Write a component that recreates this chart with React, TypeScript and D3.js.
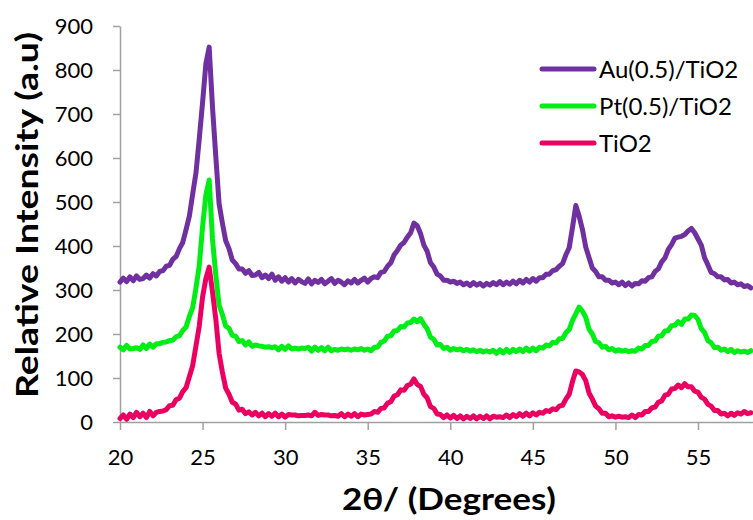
import * as d3 from "d3"
import { useEffect, useRef } from "react"

// XRD patterns, one value every 0.2 degrees from 20.0 to 58.2
const startAngle = 20
const angleStep = 0.2

const auTiO2 = [
  318, 327, 319, 330, 321, 332, 324, 326, 334, 327, 337,
  332, 342, 344, 354, 356, 370, 376, 394, 408, 437,
  468, 518, 566, 644, 726, 814, 852, 716, 604, 496, 452, 412, 394, 368, 360, 348, 348, 338, 344, 333,
  334, 340, 328, 334, 326, 336, 322, 330, 320, 328,
  318, 326, 316, 324, 319, 315, 325, 314, 322, 317,
  324, 314, 320, 326, 315, 322, 318, 312, 321, 316,
  324, 316, 322, 327, 318, 326, 330, 328, 340, 342,
  354, 362, 380, 390, 402, 408, 420, 430, 452, 446,
  428, 402, 388, 362, 352, 336, 332, 322, 322, 318,
  320, 315, 318, 312, 316, 310, 317, 311, 315, 309,
  315, 311, 317, 312, 319, 312, 318, 313, 320, 314,
  322, 316, 324, 318, 326, 320, 328, 328, 336, 336,
  344, 346, 354, 360, 380, 396, 442, 492, 468, 438,
  398, 374, 350, 342, 330, 330, 322, 322, 316, 318,
  312, 318, 310, 316, 309, 315, 314, 321, 320, 328,
  330, 342, 348, 364, 373, 392, 403, 418, 420, 422,
  426, 434, 440, 430, 416, 402, 373, 357, 340, 337,
  330, 330, 323, 324, 316, 318, 312, 314, 308, 310,
  305,
]

const ptTiO2 = [
  170, 164, 174, 166, 167, 169, 165, 175, 167, 177, 170,
  178, 178, 181, 182, 185, 186, 194, 196, 208, 216,
  240, 260, 304, 356, 444, 516, 550, 416, 334, 266, 244, 218, 213, 197, 195, 183, 185, 175, 182, 172,
  175, 173, 172, 170, 171, 169, 171, 164, 172, 165,
  173, 166, 168, 166, 168, 167, 170, 161, 170, 163,
  169, 162, 170, 162, 165, 163, 166, 164, 166, 163,
  166, 164, 167, 163, 166, 162, 170, 170, 181, 184,
  195, 196, 207, 208, 217, 216, 225, 226, 234, 228,
  235, 222, 212, 193, 188, 175, 176, 167, 170, 163,
  167, 164, 166, 162, 165, 161, 164, 160, 163, 159,
  162, 159, 163, 156, 164, 157, 165, 158, 165, 160,
  166, 160, 168, 161, 168, 162, 170, 168, 175, 173,
  181, 180, 189, 190, 203, 210, 231, 246, 261, 252,
  238, 211, 200, 183, 180, 170, 172, 164, 167, 161,
  164, 161, 163, 160, 162, 161, 168, 166, 174, 174,
  183, 184, 195, 196, 207, 208, 219, 220, 228, 222,
  234, 234, 243, 242, 233, 212, 203, 185, 180, 169,
  170, 163, 166, 160, 165, 158, 162, 159, 161, 158,
  162,
]

const tiO2 = [
  8, 16, 6, 18, 10, 22, 12, 20, 10, 24, 14,
  22, 24, 25, 28, 37, 38, 51, 54, 69, 78,
  103, 128, 173, 218, 284, 326, 352, 296, 234, 156, 113, 77, 63, 45, 41, 27, 29, 19, 23, 16,
  22, 14, 20, 12, 19, 13, 20, 12, 18, 11,
  17, 16, 16, 14, 15, 15, 16, 14, 22, 15,
  17, 16, 16, 14, 15, 13, 19, 12, 18, 13,
  19, 12, 18, 16, 17, 18, 24, 22, 31, 32,
  43, 46, 59, 62, 73, 72, 83, 86, 98, 85,
  81, 63, 55, 35, 31, 18, 17, 10, 16, 9,
  15, 8, 14, 7, 13, 8, 14, 7, 13, 8,
  14, 7, 13, 11, 12, 10, 16, 10, 17, 12,
  19, 13, 20, 14, 21, 16, 22, 20, 26, 24,
  30, 28, 36, 38, 52, 63, 92, 116, 114, 108,
  94, 66, 52, 36, 30, 20, 20, 12, 14, 11,
  13, 11, 12, 10, 16, 10, 17, 16, 24, 24,
  32, 34, 45, 48, 61, 63, 75, 76, 84, 78,
  87, 80, 80, 70, 68, 56, 52, 40, 36, 26,
  26, 18, 20, 14, 20, 15, 21, 18, 24, 19,
  21,
]

const seriesNames = ["Au(0.5)/TiO2", "Pt(0.5)/TiO2", "TiO2"]
const seriesColors = ["#7030A0", "#00EE16", "#EB0062"]
const seriesValues = [auTiO2, ptTiO2, tiO2]

const xTicks = [20, 25, 30, 35, 40, 45, 50, 55]
const yTicks = [0, 100, 200, 300, 400, 500, 600, 700, 800, 900]

export default function App() {
  const ref = useRef<SVGSVGElement>(null)

  useEffect(() => {
    const width = 753, height = 520
    const margin = { top: 26, right: 0, bottom: 98, left: 120 }
    const font = "Lato, 'Open Sans', sans-serif"
    const axisColor = "#A0A0A0"

    const svg = d3.select(ref.current)
    svg.selectAll("*").remove()

    const x = d3.scaleLinear().domain([20, 58.33]).range([margin.left, width - margin.right])
    const y = d3.scaleLinear().domain([0, 900]).range([height - margin.bottom, margin.top])

    svg.append("defs").append("clipPath").attr("id", "plot")
      .append("rect")
      .attr("x", margin.left - 10).attr("y", 0)
      .attr("width", width - margin.left + 10).attr("height", height - margin.bottom + 10)

    // axes
    const xAxis = svg.append("g")
      .attr("transform", "translate(0," + y(0) + ")")
      .call(d3.axisBottom(x).tickValues(xTicks).tickSize(8).tickPadding(18).tickSizeOuter(0))
    const yAxis = svg.append("g")
      .attr("transform", "translate(" + margin.left + ",0)")
      .call(d3.axisLeft(y).tickValues(yTicks).tickSize(7).tickPadding(20).tickSizeOuter(0))

    for (const g of [xAxis, yAxis]) {
      g.selectAll(".domain").attr("stroke", axisColor).attr("stroke-width", 1.5)
      g.selectAll(".tick line").attr("stroke", axisColor).attr("stroke-width", 1.5)
      g.selectAll("text").attr("fill", "#000").style("font-family", font).style("font-size", "22px")
    }
    yAxis.selectAll("text").attr("dy", "0.36em")
    xAxis.selectAll("text").attr("dy", "0.36em").attr("y", 35)

    // lines
    const line = d3.line<number>()
      .x((d, i) => x(startAngle + i * angleStep))
      .y(d => y(d))

    const lines = svg.append("g").attr("clip-path", "url(#plot)")
    seriesValues.forEach((vals, k) => {
      lines.append("path")
        .datum(vals)
        .attr("d", line)
        .attr("fill", "none")
        .attr("stroke", seriesColors[k])
        .attr("stroke-width", 5)
        .attr("stroke-linejoin", "round")
        .attr("stroke-linecap", "round")
    })

    // legend
    const legend = svg.append("g")
    seriesNames.forEach((name, k) => {
      const ly = 69 + k * 37
      legend.append("line")
        .attr("x1", 542).attr("x2", 594).attr("y1", ly).attr("y2", ly)
        .attr("stroke", seriesColors[k]).attr("stroke-width", 5).attr("stroke-linecap", "round")
      legend.append("text")
        .attr("x", 599).attr("y", ly).attr("dy", "0.36em")
        .style("font-family", font).style("font-size", "24px")
        .text(name)
    })

    // titles
    svg.append("text")
      .attr("transform", "translate(38,215) rotate(-90)")
      .attr("text-anchor", "middle")
      .attr("textLength", 366).attr("lengthAdjust", "spacingAndGlyphs")
      .style("font-family", font).style("font-size", "31px").style("font-weight", "bold")
      .text("Relative Intensity (a.u)")

    svg.append("text")
      .attr("x", 449).attr("y", 510)
      .attr("text-anchor", "middle")
      .attr("textLength", 214).attr("lengthAdjust", "spacingAndGlyphs")
      .style("font-family", font).style("font-size", "31px").style("font-weight", "bold")
      .text("2θ/ (Degrees)")
  })

  return (
    <svg ref={ref} width={753} height={520}
      style={{ position: "absolute", left: 0, top: 0, background: "#fff" }} />
  )
}
